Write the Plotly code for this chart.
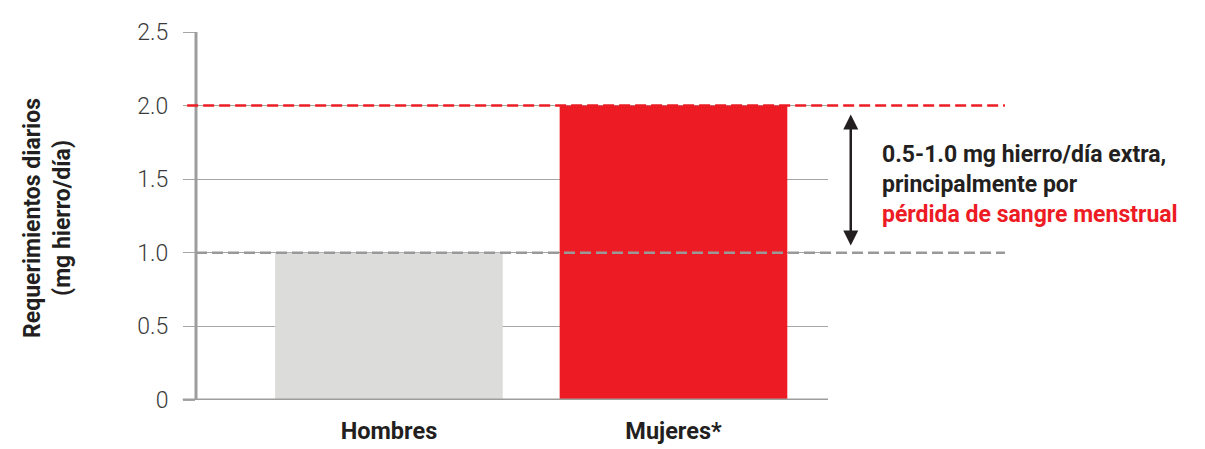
import plotly.graph_objects as go

# Daily iron requirements by sex
categories = ["Hombres", "Mujeres*"]
values = [1.0, 2.0]
bar_colors = ["#dcdcda", "#ed1c24"]

y_ticks = [0, 0.5, 1.0, 1.5, 2.0, 2.5]
y_tick_text = ["0", "0.5", "1.0", "1.5", "2.0", "2.5"]

ref_low = 1.0    # men's requirement
ref_high = 2.0   # women's requirement

FONT = "Roboto"
TEXT = "#231f20"
AXIS_GRAY = "#9d9d9d"
RED = "#ed1c24"

fig = go.Figure()
fig.add_trace(go.Bar(
    x=categories, y=values, width=0.8,
    marker=dict(color=bar_colors, line=dict(width=0)),
    hoverinfo="skip",
))

shapes = [
    # vertical axis line
    dict(type="line", xref="paper", yref="y", x0=0, x1=0, y0=-0.1, y1=2.535,
         line=dict(color=AXIS_GRAY, width=3), layer="above"),
    # baseline
    dict(type="line", xref="paper", yref="y", x0=-0.021, x1=1.0, y0=0, y1=0,
         line=dict(color=AXIS_GRAY, width=3), layer="above"),
    # reference lines
    dict(type="line", xref="paper", yref="y", x0=-0.014, x1=1.28, y0=ref_high, y1=ref_high,
         line=dict(color=RED, width=2.5, dash="11px,5px"), layer="above"),
    dict(type="line", xref="paper", yref="y", x0=0.0, x1=1.28, y0=ref_low, y1=ref_low,
         line=dict(color="#999999", width=2.5, dash="11px,5px"), layer="above"),
]

annotations = [
    # double-headed arrow between the two reference levels
    dict(xref="paper", yref="y", x=1.036, y=ref_high - 0.06,
         axref="pixel", ayref="y", ax=0, ay=ref_low + 0.04,
         text="", showarrow=True, arrowhead=2, arrowside="end+start",
         arrowsize=1.2, arrowwidth=2.5, arrowcolor=TEXT),
    dict(xref="paper", yref="y", x=1.082, y=1.467, xanchor="left", yanchor="middle",
         align="left", showarrow=False,
         text=("0.5-1.0 mg hierro/día extra,<br>principalmente por<br>"
               f"<span style='color:{RED}'>pérdida de sangre menstrual</span>"),
         font=dict(family=FONT, size=23, color=TEXT, weight="bold")),
    dict(xref="paper", yref="y", x=-0.236, y=1.236, xanchor="center", yanchor="middle",
         textangle=-90, showarrow=False, align="center",
         text="Requerimientos diarios<br>(mg hierro/día)",
         font=dict(family=FONT, size=23, color=TEXT, weight="bold")),
]

fig.update_layout(
    width=1205, height=449,
    margin=dict(l=196, r=377, t=32, b=49, autoexpand=False),
    paper_bgcolor="white", plot_bgcolor="white",
    showlegend=False,
    shapes=shapes, annotations=annotations,
    xaxis=dict(
        type="category", range=[-0.678, 1.543], automargin=False,
        showgrid=False, zeroline=False, showline=False, ticks="",
        ticklabelstandoff=14,
        tickfont=dict(family=FONT, size=23.5, color=TEXT, weight="bold"),
    ),
    yaxis=dict(
        range=[0, 2.5], tickvals=y_ticks, ticktext=y_tick_text, automargin=False,
        showgrid=True, gridcolor="#a6a6a6", gridwidth=1,
        zeroline=False, showline=False,
        ticks="outside", ticklen=12, tickcolor="#a6a6a6", tickwidth=1,
        ticklabelstandoff=10,
        tickfont=dict(family=FONT, size=23, color="#3a3a3a", weight=300),
    ),
)

fig.write_html("out.html")
